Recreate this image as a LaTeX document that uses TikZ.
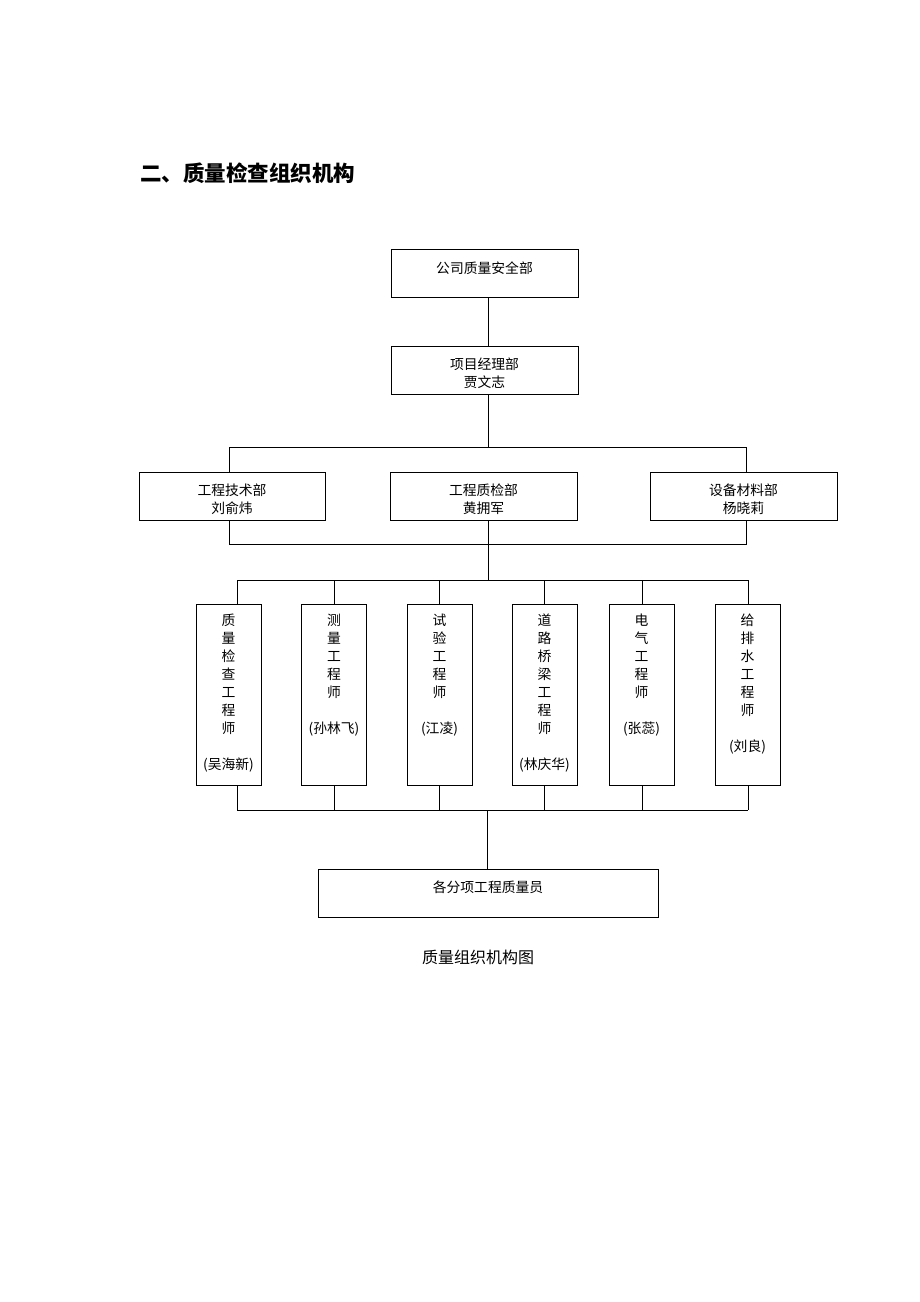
\documentclass[tikz,border=0pt]{standalone}
\usepackage{fontspec}
\newfontfamily\cjk{Noto Sans CJK SC}
\newcommand\mydn[1]{\raisebox{-4.5pt}[10pt][3pt]{#1}}
\newcommand\myup[2]{\raisebox{#1}[10pt][3pt]{#2}}
\begin{document}
\begin{tikzpicture}[x=1pt,y=-1pt,
  box/.style={draw, line width=1pt, inner sep=0pt, align=center,
    font=\cjk\fontsize{13.8}{18}\selectfont},
  wbox/.style={box, minimum width=187pt, minimum height=48pt},
  tbox/.style={box, minimum width=65pt, minimum height=181pt},
  vtext/.style={inner sep=0pt, anchor=north, align=center,
    font=\cjk\fontsize{13.8}{18}\selectfont},
  conn/.style={line width=0.9pt}]
\useasboundingbox (0,0) rectangle (920,1302);
\fill[white] (0,0) rectangle (920,1302);

\node[anchor=west, inner sep=0pt, font=\cjk\bfseries\fontsize{21.5}{24}\selectfont] (title) at (140,173) {二、质量检查组织机构};

\node[wbox] (b1) at (484.5,273) {\myup{3.5pt}{公司质量安全部}};
\node[wbox] (b2) at (484.5,370) {\mydn{项目经理部}\\\mydn{贾文志}};

\node[wbox, minimum width=186pt] (dA) at (232,496) {\mydn{工程技术部}\\\mydn{刘俞炜}};
\node[wbox] (dB) at (483.5,496) {\mydn{工程质检部}\\\mydn{黄拥军}};
\node[wbox] (dC) at (743.5,496) {\mydn{设备材料部}\\\mydn{杨晓莉}};

\node[tbox] (e1) at (228.5,694.5) {};
\node[tbox] (e2) at (334,694.5) {};
\node[tbox] (e3) at (439.5,694.5) {};
\node[tbox] (e4) at (544.5,694.5) {};
\node[tbox] (e5) at (641.5,694.5) {};
\node[tbox] (e6) at (747.5,694.5) {};

\node[vtext] (t1) at (228.5,613.5) {质\\量\\检\\查\\工\\程\\师\\[18pt](吴海新)};
\node[vtext] (t2) at (334,613.5) {测\\量\\工\\程\\师\\[18pt](孙林飞)};
\node[vtext] (t3) at (439.5,613.5) {试\\验\\工\\程\\师\\[18pt](江凌)};
\node[vtext] (t4) at (544.5,613.5) {道\\路\\桥\\梁\\工\\程\\师\\[18pt](林庆华)};
\node[vtext] (t5) at (641.5,613.5) {电\\气\\工\\程\\师\\[18pt](张蕊)};
\node[vtext] (t6) at (747.5,613.5) {给\\排\\水\\工\\程\\师\\[18pt](刘良)};

\node[box, minimum width=340pt, minimum height=48pt] (f) at (488,893) {\myup{4.5pt}{各分项工程质量员}};

\node[inner sep=0pt, font=\cjk\fontsize{16}{18}\selectfont] (cap) at (478,957) {质量组织机构图};

% coordinates
\coordinate (j1) at (488,447);
\coordinate (tl) at (229,447);
\coordinate (tr) at (746,447);
\coordinate (bl) at (229,544);
\coordinate (br) at (746,544);
\coordinate (j2) at (488,580);
\coordinate (c1) at (237,580);
\coordinate (c2) at (334,580);
\coordinate (c3) at (439,580);
\coordinate (c4) at (544,580);
\coordinate (c5) at (642,580);
\coordinate (c6) at (748,580);
\coordinate (d1) at (237,810);
\coordinate (d2) at (334,810);
\coordinate (d3) at (439,810);
\coordinate (d4) at (544,810);
\coordinate (d5) at (642,810);
\coordinate (d6) at (748,810);
\coordinate (j3) at (487,810);

\draw[conn] (b1.south -| j1) -- (b2.north -| j1);
\draw[conn] (b2.south -| j1) -- (j1);
\draw[conn] (dA.north -| tl) -- (tl) -- (tr) -- (dC.north -| tr);
\draw[conn] (dA.south -| bl) -- (bl) -- (br) -- (dC.south -| br);
\draw[conn] (dB.south -| j2) -- (j2);
\draw[conn] (c1) -- (c6);
\foreach \i in {1,...,6} {
  \draw[conn] (c\i) -- (e\i.north -| c\i);
  \draw[conn] (e\i.south -| d\i) -- (d\i);
}
\draw[conn] (d1) -- (d6);
\draw[conn] (j3) -- (f.north -| j3);
\end{tikzpicture}
\end{document}
